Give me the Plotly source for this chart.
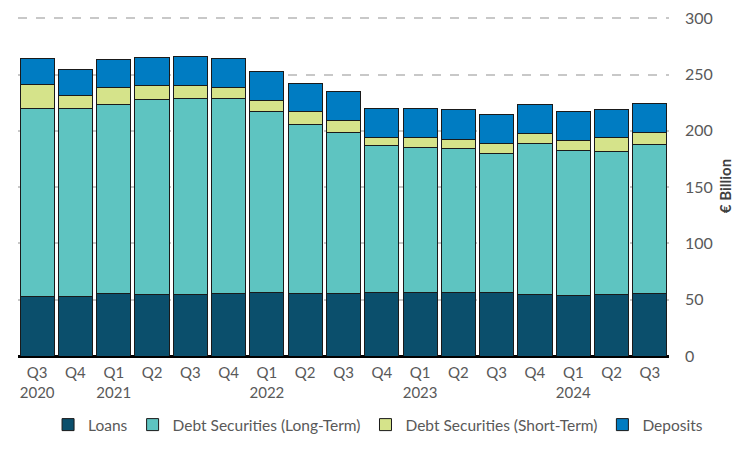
import plotly.graph_objects as go

categories = ["Q3<br>2020", "Q4", "Q1<br>2021", "Q2", "Q3", "Q4", "Q1<br>2022", "Q2", "Q3",
              "Q4", "Q1<br>2023", "Q2", "Q3", "Q4", "Q1<br>2024", "Q2", "Q3"]
cat_ids = ["2020Q3", "2020Q4", "2021Q1", "2021Q2", "2021Q3", "2021Q4", "2022Q1", "2022Q2",
           "2022Q3", "2022Q4", "2023Q1", "2023Q2", "2023Q3", "2023Q4", "2024Q1", "2024Q2", "2024Q3"]

loans = [53.2, 53.2, 55.6, 54.7, 54.7, 55.6, 56.5, 55.6, 55.6, 56.5, 56.5, 56.5, 56.5, 54.7, 54.1, 54.7, 55.6]
debt_long = [166.6, 166.3, 167.8, 173.1, 174.0, 173.1, 160.7, 150.0, 142.9, 130.5, 128.4, 127.5, 123.7,
             134.1, 128.1, 126.9, 132.0]
debt_short = [21.4, 11.9, 14.7, 12.5, 11.6, 9.8, 9.8, 11.2, 10.7, 7.0, 8.9, 8.0, 8.2, 8.8, 8.9, 12.2, 10.9]
deposits = [23.0, 23.0, 24.9, 24.8, 25.4, 25.7, 25.7, 25.5, 25.7, 25.5, 26.0, 27.0, 26.1, 25.8, 26.1, 25.4, 25.8]

y_ticks = [0, 50, 100, 150, 200, 250, 300]

series = [
    ("Loans", loans, "#0B4F6C"),
    ("Debt Securities (Long-Term)", debt_long, "#5EC4C1"),
    ("Debt Securities (Short-Term)", debt_short, "#D5E38A"),
    ("Deposits", deposits, "#007CC2"),
]

fig = go.Figure()
for name, vals, color in series:
    fig.add_trace(go.Bar(
        x=cat_ids, y=vals, name=name,
        marker=dict(color=color, line=dict(color="#1a1a1a", width=1)),
    ))

font_family = "Lato, 'Open Sans', sans-serif"
fig.update_layout(
    barmode="stack",
    bargap=0.11,
    width=756, height=450,
    margin=dict(l=18, r=87, t=16, b=94, autoexpand=False),
    plot_bgcolor="white", paper_bgcolor="white",
    font=dict(family=font_family, color="#595959", size=15),
    showlegend=True,
    legend=dict(orientation="h", xref="paper", yref="paper", x=1.06, y=-0.203,
                xanchor="right", yanchor="middle", font=dict(size=15.5, color="#595959"),
                traceorder="normal", itemwidth=30),
    xaxis=dict(tickmode="array", tickvals=cat_ids, ticktext=categories, showgrid=False,
               showline=False, ticks="", automargin=False, ticklabelstandoff=6,
               tickfont=dict(size=15, color="#595959")),
    yaxis=dict(side="right", range=[0, 302], tickvals=y_ticks,
               showgrid=True, gridcolor="#C8C8C8",
               griddash="dash", gridwidth=2, zeroline=True, zerolinecolor="#000000",
               zerolinewidth=3, showline=False, ticks="", automargin=False,
               ticklabelstandoff=15,
               tickfont=dict(size=16, color="#595959"),
               title=dict(text="€ Billion", font=dict(size=15, color="#404040", weight="bold"),
                          standoff=8)),
)

fig.write_html("out.html", post_script="document.body.style.margin='0px';",
               config={"displayModeBar": False})
